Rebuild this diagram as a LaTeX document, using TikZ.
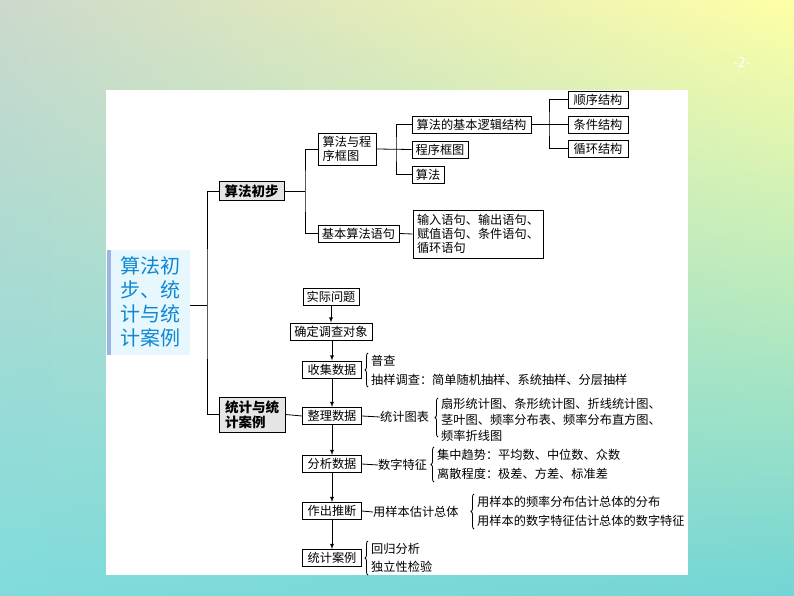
\documentclass[tikz,border=0pt]{standalone}
\usepackage{fontspec}
\setmainfont{Noto Sans CJK SC}
\usetikzlibrary{decorations.pathreplacing,shadings}
\begin{document}
\begin{tikzpicture}[x=1pt,y=-1pt,
  bx/.style={draw,line width=0.9pt,inner sep=1pt,font=\fontsize{12.2}{14}\selectfont,anchor=center},
  gb/.style={bx,fill=gray!20,font=\fontsize{13.5}{15}\selectfont\bfseries},
  tx/.style={inner sep=0pt,font=\fontsize{12.2}{14}\selectfont,anchor=west},
  ln/.style={line width=0.8pt},
  ar/.style={ln,-latex},
  br/.style={ln,decorate,decoration={brace,amplitude=3pt,mirror}}]
\shade[upper left=green!15!gray!35!white, upper right=yellow!35!white, lower left=teal!55!cyan!50, lower right=teal!60!cyan!55] (0,0) rectangle (794,596);
\fill[white] (106,90) rectangle (688,575);
\node[white,font=\fontsize{14}{15}\selectfont] (pg) at (742,62) {-2-};
% main
\fill[cyan!10] (107,250) rectangle (190,355);
\fill[cyan!50!blue!40] (107,250) rectangle (111,355);
\node[align=left,text=cyan!70!blue,font=\fontsize{20}{24}\selectfont,inner sep=0pt] (m) at (150,302) {算法初\\步、统\\计与统\\计案例};
\coordinate (mr) at (190,305);
\node[gb,minimum width=65,minimum height=19] (a) at (251.5,191) {算法初步};
\node[gb,minimum width=66,minimum height=35,align=left] (s) at (252,414.5) {统计与统\\计案例};
\draw[ln] (mr) -- (207,305);
\draw[ln] (a.west) -| (207,305) |- (s.west);
% algorithm branch
\node[bx,minimum width=58,minimum height=32,align=left] (a1) at (347,149) {算法与程\\序框图};
\node[bx,minimum width=81,minimum height=17] (a2) at (358.5,233.5) {基本算法语句};
\draw[ln] (a.east) -- (305,191);
\draw[ln] (a1.west) -| (305,191) |- (a2.west);
\node[bx,minimum width=119,minimum height=17] (b1) at (471.5,124.5) {算法的基本逻辑结构};
\node[bx,minimum width=56,minimum height=17] (b2) at (440,149.5) {程序框图};
\node[bx,minimum width=32,minimum height=17] (b3) at (428,174.5) {算法};
\draw[ln] (a1.east) -- (b2.west);
\draw[ln] (b1.west) -| (396,149) |- (b3.west);
\node[bx,minimum width=60,minimum height=17] (c1) at (598,99.5) {顺序结构};
\node[bx,minimum width=60,minimum height=17] (c2) at (598,124.5) {条件结构};
\node[bx,minimum width=60,minimum height=17] (c3) at (598,148.5) {循环结构};
\draw[ln] (b1.east) -- (c2.west);
\draw[ln] (c1.west) -| (549,124) |- (c3.west);
\node[bx,minimum width=130,minimum height=48,align=left,inner sep=3pt] (b4) at (478,234) {输入语句、输出语句、\\赋值语句、条件语句、\\循环语句};
\draw[ln] (a2.east) -- (b4.west);
% stats chain
\node[bx,minimum width=56,minimum height=17] (d1) at (331,296.5) {实际问题};
\node[bx,minimum width=82,minimum height=17] (d2) at (331,331.5) {确定调查对象};
\node[bx,minimum width=59,minimum height=17] (d3) at (332,369.5) {收集数据};
\node[bx,minimum width=59,minimum height=17] (d4) at (332,416) {整理数据};
\node[bx,minimum width=59,minimum height=17] (d5) at (332,464) {分析数据};
\node[bx,minimum width=59,minimum height=17] (d6) at (332,511) {作出推断};
\node[bx,minimum width=59,minimum height=17] (d7) at (332,558) {统计案例};
\draw[ar] (d1) -- (d2);
\draw[ar] (d2.south -| d3) -- (d3);
\draw[ar] (d3) -- (d4);
\draw[ar] (d4) -- (d5);
\draw[ar] (d5) -- (d6);
\draw[ar] (d6) -- (d7);
\draw[ln] (s.east) -- (d4.west);
% collect
\draw[br] (368,353) -- (368,387);
\node[tx] (e1) at (371,361) {普查};
\node[tx] (e2) at (371,380) {抽样调查：简单随机抽样、系统抽样、分层抽样};
% organize
\node[tx] (f0) at (380,417) {统计图表};
\draw[ln] (d4.east) -- (f0.west);
\draw[br] (438,398) -- (438,437);
\node[tx] (f1) at (441,404) {扇形统计图、条形统计图、折线统计图、};
\node[tx] (f2) at (441,420) {茎叶图、频率分布表、频率分布直方图、};
\node[tx] (f3) at (441,436) {频率折线图};
% analyze
\node[tx] (g0) at (378,465) {数字特征};
\draw[ln] (d5.east) -- (g0.west);
\draw[br] (434,447) -- (434,482);
\node[tx] (g1) at (437,455) {集中趋势：平均数、中位数、众数};
\node[tx] (g2) at (437,474) {离散程度：极差、方差、标准差};
% infer
\node[tx] (h0) at (373,512) {用样本估计总体};
\draw[ln] (d6.east) -- (h0.west);
\draw[br] (474,494) -- (474,529);
\node[tx] (h1) at (477,502) {用样本的频率分布估计总体的分布};
\node[tx] (h2) at (477,521) {用样本的数字特征估计总体的数字特征};
% cases
\draw[br] (368,541) -- (368,575);
\node[tx] (k1) at (371,549) {回归分析};
\node[tx] (k2) at (371,567) {独立性检验};
\end{tikzpicture}
\end{document}
